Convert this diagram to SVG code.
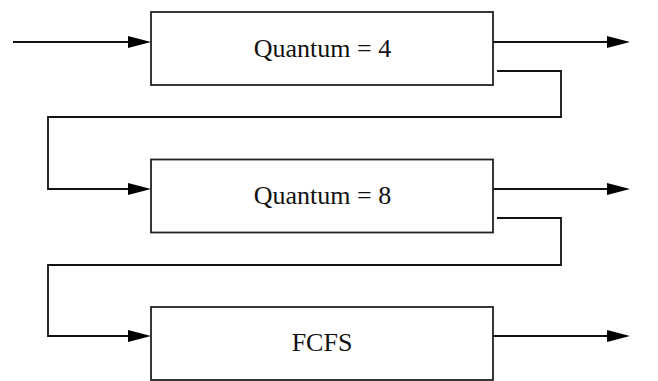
<svg xmlns="http://www.w3.org/2000/svg" width="658" height="381" viewBox="0 0 658 381">
<style>
.box{fill:#fff;stroke:#222;stroke-width:1.8}
.lbl{font-family:"Liberation Serif",serif;font-size:26px;fill:#111;text-anchor:middle}
.ln{fill:none;stroke:#111;stroke-width:1.8}
.ah{fill:#000}
</style>
<defs>
<polygon id="head" points="0,0 -23,-6 -23,6"/>
</defs>
<g id="connectors">
<path class="ln" d="M13,42 H130"/>
<use href="#head" class="ah" x="151" y="42"/>
<path class="ln" d="M493,42 H608"/>
<use href="#head" class="ah" x="630" y="42"/>
<path class="ln" d="M497,71 H561 V117 H48 V189 H130"/>
<use href="#head" class="ah" x="151" y="189"/>
<path class="ln" d="M493,189 H608"/>
<use href="#head" class="ah" x="630" y="189"/>
<path class="ln" d="M497,218 H561 V265 H48 V336 H130"/>
<use href="#head" class="ah" x="151" y="336"/>
<path class="ln" d="M493,336 H608"/>
<use href="#head" class="ah" x="630" y="336"/>
</g>
<g id="q4">
<rect class="box" x="151" y="12" width="342" height="73"/>
<text class="lbl" x="322.5" y="56.5">Quantum = 4</text>
</g>
<g id="q8">
<rect class="box" x="151" y="159.5" width="342" height="73"/>
<text class="lbl" x="322.5" y="203.5">Quantum = 8</text>
</g>
<g id="fcfs">
<rect class="box" x="151" y="307" width="342" height="73"/>
<text class="lbl" x="322" y="351">FCFS</text>
</g>
</svg>
